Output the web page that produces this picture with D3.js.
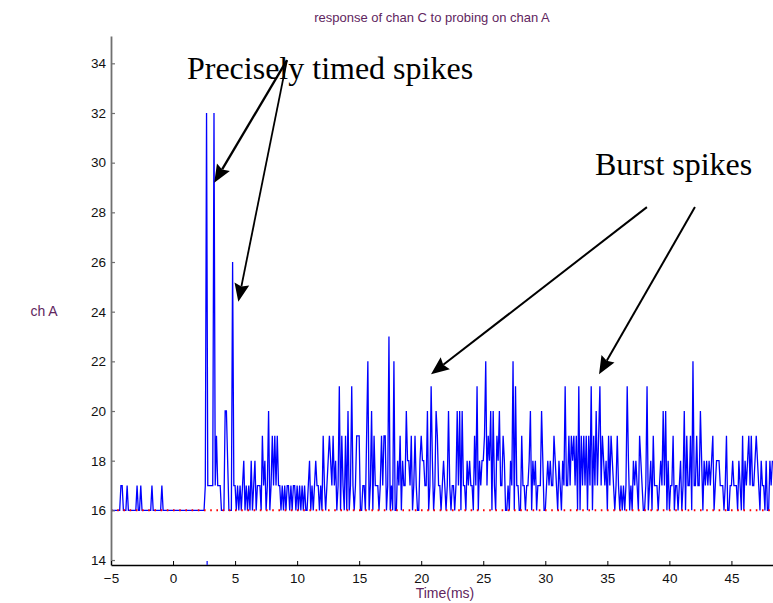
<!DOCTYPE html>
<html>
<head>
<meta charset="utf-8">
<script src="https://cdn.jsdelivr.net/npm/d3@7"></script>
<style>
  html, body { margin: 0; padding: 0; background: #fff; }
  svg { display: block; }
</style>
</head>
<body>
<svg id="chart" width="773" height="603"></svg>
<script>
// Spike counts on chan C, one bin every 0.1 ms starting at -5 ms (one row per ms)
const binStart = -5;
const binWidth = 0.1;
const counts = [
  16,16,16,16,16,16,16,16,17,17,   // -5
  16,16,16,17,16,16,16,16,16,16,   // -4
  16,17,16,16,17,16,16,16,16,16,   // -3
  16,16,16,17,16,16,16,16,16,16,   // -2
  16,17,16,16,16,16,16,16,16,16,   // -1
  16,16,16,16,16,16,16,16,16,16,   // 0
  16,16,16,16,16,16,16,16,16,16,   // 1
  16,16,16,16,16,16,17,32,17,17,   // 2
  17,17,17,32,17,19,17,17,17,16,   // 3
  16,16,20,20,18,16,16,16,26,17,   // 4
  17,16,17,16,17,16,17,18,16,17,   // 5
  16,17,16,18,16,17,18,16,17,17,   // 6
  17,16,19,17,18,16,17,20,16,17,   // 7
  19,17,19,17,19,17,17,16,17,16,   // 8
  17,16,17,17,16,17,16,17,17,16,   // 9
  17,16,17,16,17,16,17,16,16,17,   // 10
  18,16,17,16,17,18,17,17,16,17,   // 11
  16,19,17,16,17,18,19,18,17,19,   // 12
  17,18,16,17,21,16,19,17,16,19,   // 13
  16,20,16,17,21,17,16,17,19,19,   // 14
  19,16,16,17,17,16,19,22,16,17,   // 15
  20,16,19,17,17,17,16,17,19,17,   // 16
  19,19,16,17,23,16,17,16,22,16,   // 17
  16,18,17,19,16,18,17,17,20,18,   // 18
  18,17,19,16,17,19,17,16,16,18,   // 19
  19,18,18,17,17,20,16,17,21,18,   // 20
  16,17,20,19,17,17,16,17,18,17,   // 21
  16,17,20,17,16,17,17,16,17,20,   // 22
  17,20,16,20,17,17,16,18,17,18,   // 23
  17,17,16,19,17,21,16,18,17,18,   // 24
  18,19,22,17,19,18,20,16,20,17,   // 25
  16,19,18,20,17,17,19,18,16,16,   // 26
  17,16,18,17,22,16,21,17,17,16,   // 27
  16,19,17,17,16,17,17,18,20,16,   // 28
  18,17,18,16,17,17,17,20,18,16,   // 29
  16,17,18,17,18,17,17,19,18,17,   // 30
  16,18,17,16,18,17,21,17,17,19,   // 31
  17,19,18,19,17,19,16,21,16,19,   // 32
  17,19,17,19,16,19,17,21,16,19,   // 33
  17,20,17,19,21,17,19,18,17,18,   // 34
  16,19,17,19,18,17,16,17,19,17,   // 35
  16,17,16,17,16,17,21,18,16,17,   // 36
  16,18,17,18,17,16,19,18,17,16,   // 37
  16,17,21,16,17,18,16,19,17,17,   // 38
  17,16,17,18,17,20,17,20,16,18,   // 39
  16,17,17,19,16,17,17,16,17,18,   // 40
  16,17,20,16,19,17,17,19,16,22,   // 41
  17,17,19,17,17,20,18,16,18,17,   // 42
  18,17,18,17,18,19,16,17,18,18,   // 43
  18,17,17,17,16,17,19,16,16,17,   // 44
  17,18,17,17,17,16,18,17,16,19,   // 45
  16,18,17,18,19,17,19,17,17,18,   // 46
  19,18,17,16,18,17,17,16,18,16,   // 47
  16,18,17,18                      // 48
];

// Baseline level (red dotted reference line)
const baselineLevel = 16;
// Stimulus time on chan A (ms)
const stimTimes = [2.75];

// Axis ticks
const xTicks = [-5, 0, 5, 10, 15, 20, 25, 30, 35, 40, 45];
const yTicks = [14, 16, 18, 20, 22, 24, 26, 28, 30, 32, 34];
const xDomain = [-5, 48.35];
const yDomain = [13.8, 35.1];

// Text
const titleText = "response of chan C to probing on chan A";
const xLabelText = "Time(ms)";
const yLabelText = "ch A";

// Callouts: label text with anchor point (ms, count)
const calloutLabels = [
  { text: "Precisely timed spikes", t: 1.12, v: 33.37 },
  { text: "Burst spikes", t: 34.0, v: 29.5 }
];
// Callout arrows from (t0, v0) to tip (t1, v1)
const calloutArrows = [
  { t0: 9.18, v0: 34.13, t1: 3.32, v1: 29.19, w: 2.3 },
  { t0: 9.18, v0: 34.13, t1: 5.26, v1: 24.40, w: 1.8 },
  { t0: 38.19, v0: 28.21, t1: 20.79, v1: 21.48, w: 2.0 },
  { t0: 42.06, v0: 28.21, t1: 34.33, v1: 21.48, w: 2.0 }
];

const svg = d3.select("#chart");
const plotLeft = 111, plotRight = 773, plotTop = 36, plotBottom = 565;

const x = d3.scaleLinear().domain(xDomain).range([plotLeft, plotRight]);
const y = d3.scaleLinear().domain(yDomain).range([plotBottom, plotTop]);

const series = counts.map((c, i) => ({ t: binStart + i * binWidth, c }));

const sansFont = "'Liberation Sans', Arial, Helvetica, sans-serif";
const serifFont = "'Liberation Serif', 'Times New Roman', Times, serif";
const purple = "#5f2660";

// Response trace
svg.append("path")
  .datum(series)
  .attr("fill", "none")
  .attr("stroke", "#0000ff")
  .attr("stroke-width", 1.3)
  .attr("stroke-linejoin", "miter")
  .attr("d", d3.line().x(d => x(d.t)).y(d => y(d.c)));

// Baseline reference (red dotted)
svg.append("path")
  .datum(xDomain)
  .attr("fill", "none")
  .attr("stroke", "#ff0000")
  .attr("stroke-width", 2)
  .attr("stroke-dasharray", "1.6 4.6")
  .attr("d", d3.line().x(d => x(d)).y(() => y(baselineLevel)));

// Y axis (grey, inward ticks)
const yAxis = svg.append("g")
  .attr("transform", `translate(${plotLeft},0)`)
  .call(d3.axisLeft(y).tickValues(yTicks).tickSizeInner(-4).tickSizeOuter(0).tickPadding(5));
yAxis.select(".domain").attr("stroke", "#707070").attr("stroke-width", 1.8);
yAxis.selectAll(".tick line").attr("stroke", "#707070").attr("stroke-width", 1.2);
yAxis.selectAll(".tick text")
  .attr("font-family", sansFont).attr("font-size", 13.5).attr("fill", "#111");

// X axis (black, inward ticks)
const xAxis = svg.append("g")
  .attr("transform", `translate(0,${plotBottom})`)
  .call(d3.axisBottom(x).tickValues(xTicks).tickSizeInner(-4).tickSizeOuter(0).tickPadding(8));
xAxis.select(".domain").attr("stroke", "#000").attr("stroke-width", 1.3);
xAxis.selectAll(".tick line").attr("stroke", "#000").attr("stroke-width", 1);
xAxis.selectAll(".tick text")
  .attr("font-family", sansFont).attr("font-size", 13.5).attr("fill", "#111");

// Stimulus marker on the time axis
svg.selectAll(".stim")
  .data(stimTimes)
  .join("line")
  .attr("class", "stim")
  .attr("x1", d => x(d)).attr("x2", d => x(d))
  .attr("y1", plotBottom - 4).attr("y2", plotBottom)
  .attr("stroke", "#3333ff").attr("stroke-width", 1.5);

// Title and axis labels
svg.append("text")
  .attr("x", 432).attr("y", 22)
  .attr("text-anchor", "middle")
  .attr("font-family", sansFont).attr("font-size", 13)
  .attr("fill", purple)
  .text(titleText);

svg.append("text")
  .attr("x", 445).attr("y", 598)
  .attr("text-anchor", "middle")
  .attr("font-family", sansFont).attr("font-size", 14)
  .attr("fill", purple)
  .text(xLabelText);

svg.append("text")
  .attr("x", 44).attr("y", 316)
  .attr("text-anchor", "middle")
  .attr("font-family", sansFont).attr("font-size", 14)
  .attr("fill", purple)
  .text(yLabelText);

// Callout arrows
const headLen = 18, headHalf = 7.5, notch = 2.5;
const arrows = svg.append("g").attr("class", "callouts");
calloutArrows.forEach(a => {
  const x0 = x(a.t0), y0 = y(a.v0), x1 = x(a.t1), y1 = y(a.v1);
  const ang = Math.atan2(y1 - y0, x1 - x0);
  const ux = Math.cos(ang), uy = Math.sin(ang);
  const px = -uy, py = ux;
  const bx = x1 - ux * headLen, by = y1 - uy * headLen;
  arrows.append("line")
    .attr("x1", x0).attr("y1", y0)
    .attr("x2", bx + ux * notch).attr("y2", by + uy * notch)
    .attr("stroke", "#000").attr("stroke-width", a.w);
  const head = [
    [x1, y1],
    [bx + px * headHalf, by + py * headHalf],
    [bx + ux * notch, by + uy * notch],
    [bx - px * headHalf, by - py * headHalf]
  ];
  arrows.append("path")
    .attr("d", "M" + head.map(p => p.join(",")).join("L") + "Z")
    .attr("fill", "#000");
});

// Callout labels
svg.selectAll(".callout-label")
  .data(calloutLabels)
  .join("text")
  .attr("class", "callout-label")
  .attr("x", d => x(d.t)).attr("y", d => y(d.v))
  .attr("font-family", serifFont).attr("font-size", 32)
  .attr("fill", "#000")
  .text(d => d.text);
</script>
</body>
</html>
